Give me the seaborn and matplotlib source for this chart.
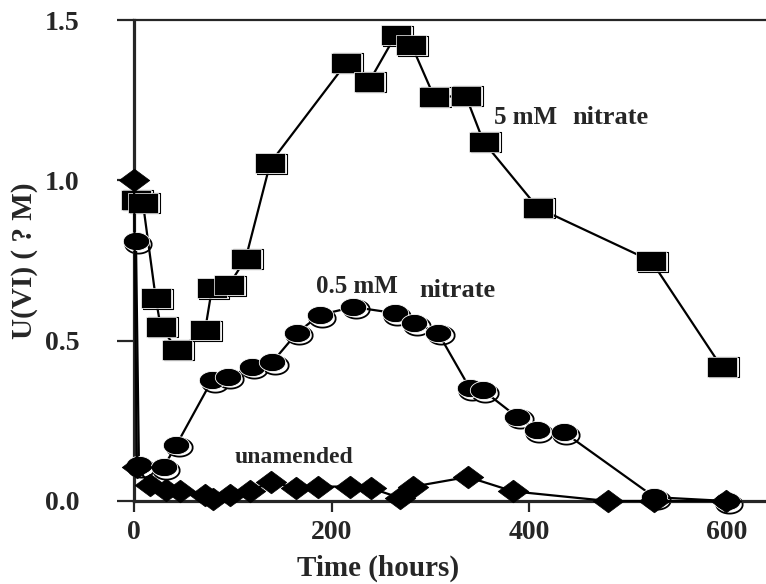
import numpy as np
import pandas as pd
import matplotlib
matplotlib.use("Agg")
import matplotlib.pyplot as plt
from matplotlib.transforms import offset_copy
import seaborn as sns

# ---- data ----
sq_time = [2, 9, 22, 27, 44, 72, 79, 96, 113, 138, 215, 238, 265, 281, 304, 336, 354, 409, 524, 595]
sq_u = [0.94, 0.93, 0.633, 0.543, 0.471, 0.533, 0.664, 0.673, 0.755, 1.054, 1.366, 1.307, 1.453,
        1.422, 1.26, 1.263, 1.12, 0.914, 0.748, 0.418]

ci_time = [2, 5, 30, 43, 79, 95, 119, 140, 165, 188, 222, 264, 284, 308, 340, 353, 388, 408, 435, 527, 600]
ci_u = [0.81, 0.112, 0.106, 0.175, 0.377, 0.387, 0.418, 0.433, 0.524, 0.58, 0.605, 0.586, 0.555,
        0.524, 0.352, 0.346, 0.262, 0.221, 0.215, 0.012, 0.0]

di_time = [0, 3, 16, 32, 47, 72, 80, 97, 117, 139, 164, 186, 219, 240, 269, 283, 338, 384, 480, 527, 599]
di_u = [1.0, 0.105, 0.05, 0.035, 0.03, 0.02, 0.005, 0.02, 0.03, 0.06, 0.04, 0.045, 0.045, 0.04, 0.01,
        0.045, 0.075, 0.03, 0.0, 0.0, 0.0]

x_ticks = [0, 200, 400, 600]
y_ticks = [0.0, 0.5, 1.0, 1.5]
y_tick_labels = ["0.0", "0.5", "1.0", "1.5"]

# ---- style ----
sns.set_style("ticks")
plt.rcParams["font.family"] = ["Liberation Serif", "DejaVu Serif"]
plt.rcParams["font.weight"] = "bold"

fig = plt.figure(figsize=(7.66, 5.84), dpi=100)
ax = fig.add_axes([134 / 766, 83 / 584, 632 / 766, 481 / 584])

# marker shapes (wide, as in the reference)
square_m = [(-1.43, -1), (1.43, -1), (1.43, 1), (-1.43, 1), (-1.43, -1)]
tt = np.linspace(0, 2 * np.pi, 60)
ellipse_m = list(zip(1.45 * np.cos(tt), np.sin(tt)))
diamond_m = [(0, 1), (1.35, 0), (0, -1), (-1.35, 0), (0, 1)]

shadow_tr = offset_copy(ax.transData, fig=fig, x=2.5, y=-2.5, units="dots")
shadow_sq = offset_copy(ax.transData, fig=fig, x=2.0, y=-0.5, units="dots")

# shadow outlines (offset copies)
ax.plot(ci_time, ci_u, linestyle="none", marker=ellipse_m, markersize=19,
        mfc="white", mec="black", mew=1.3, transform=shadow_tr, clip_on=False, zorder=2)
ax.plot(sq_time, sq_u, linestyle="none", marker=square_m, markersize=21,
        mfc="white", mec="black", mew=0.8, transform=shadow_sq, clip_on=False, zorder=2)

df_sq = pd.DataFrame({"t": sq_time, "u": sq_u})
df_ci = pd.DataFrame({"t": ci_time, "u": ci_u})
df_di = pd.DataFrame({"t": di_time, "u": di_u})

sns.lineplot(data=df_sq, x="t", y="u", ax=ax, color="black", linewidth=1.6, errorbar=None,
             marker=square_m, markersize=21, mfc="black", mec="white", mew=0.5,
             clip_on=False, zorder=3)
sns.lineplot(data=df_ci, x="t", y="u", ax=ax, color="black", linewidth=1.6, errorbar=None,
             marker=ellipse_m, markersize=19, mfc="black", mec="white", mew=0.6,
             clip_on=False, zorder=3)
sns.lineplot(data=df_di, x="t", y="u", ax=ax, color="black", linewidth=1.6, errorbar=None,
             marker=diamond_m, markersize=22, mfc="black", mec="black", mew=0.5,
             clip_on=False, zorder=4)

# ---- axes ----
ax.set_xlim(0, 640)
ax.set_ylim(0, 1.5)
ax.set_xticks(x_ticks)
ax.set_xticklabels([str(v) for v in x_ticks])
ax.set_yticks(y_ticks)
ax.set_yticklabels(y_tick_labels)
ax.tick_params(axis="y", direction="out", length=12, width=1.6, pad=27, labelsize=20)
ax.tick_params(axis="x", direction="out", length=8, width=1.6, pad=6, labelsize=20)
for lab in ax.get_xticklabels() + ax.get_yticklabels():
    lab.set_fontweight("bold")

ax.spines["right"].set_visible(False)
ax.spines["left"].set_linewidth(2.3)
ax.spines["bottom"].set_linewidth(2.3)
ax.spines["top"].set_linewidth(1.6)
ax.spines["top"].set_visible(True)

ax.set_xlabel("Time (hours)", fontsize=21, fontweight="bold")
ax.set_ylabel("U(VI) ( ? M)", fontsize=21, fontweight="bold")
ax.xaxis.set_label_coords((378 - 134) / 632, -0.112)
ax.yaxis.set_label_coords(-0.152, 0.5)

# ---- annotations ----
ax.text(365, 1.176, "5 mM", fontsize=18, fontweight="bold", ha="left", va="baseline")
ax.text(444, 1.176, "nitrate", fontsize=19, fontweight="bold", ha="left", va="baseline")
ax.text(184, 0.649, "0.5 mM", fontsize=18, fontweight="bold", ha="left", va="baseline")
ax.text(289, 0.636, "nitrate", fontsize=19, fontweight="bold", ha="left", va="baseline")
ax.text(162, 0.118, "unamended", fontsize=17, fontweight="bold", ha="center", va="baseline")

fig.savefig("out.png", dpi=100)
